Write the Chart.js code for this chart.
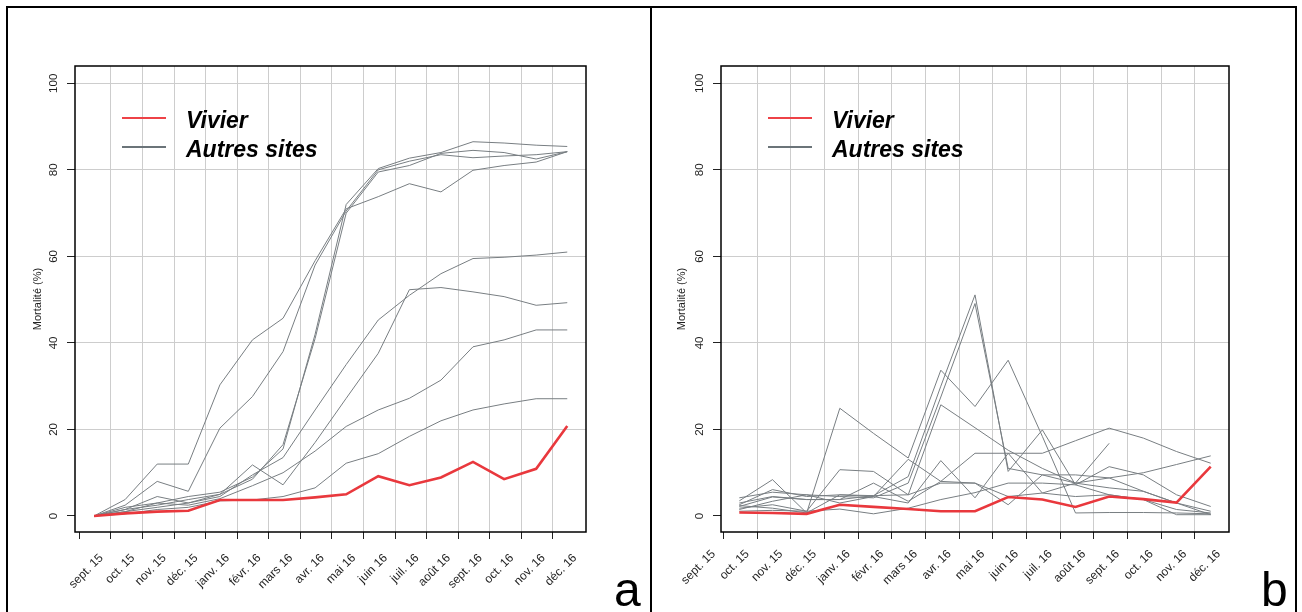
<!DOCTYPE html>
<html lang="fr">
<head>
    <meta charset="UTF-8">
    <title>Mortalité : Vivier et autres sites</title>
    <style>
        html, body {
            margin: 0;
            padding: 0;
            background: #fff;
        }

        body {
            width: 1302px;
            height: 612px;
            overflow: hidden;
            position: relative;
            font-family: "Liberation Sans", Arial, sans-serif;
        }

        .cadre {
            position: absolute;
            left: 6px;
            top: 6px;
            width: 1287px;
            height: 640px;
            border: 2px solid #000;
        }

        .separation {
            position: absolute;
            left: 650px;
            top: 6px;
            width: 2px;
            height: 640px;
            background: #000;
        }

        canvas {
            position: absolute;
            top: 8px;
        }

        .lettre {
            position: absolute;
            font-size: 48px;
            line-height: 48px;
            color: #000;
        }
    </style>
</head>
<body>

    <div class="cadre"></div>
    <div class="separation"></div>

    <canvas id="grapheA" width="642" height="604" style="left: 8px;"></canvas>
    <canvas id="grapheB" width="643" height="604" style="left: 652px;"></canvas>

    <div class="lettre" style="left: 614px; top: 566px;">a</div>
    <div class="lettre" style="left: 1261px; top: 566px;">b</div>

    <script src="https://cdn.jsdelivr.net/npm/chart.js"></script>

    <script>
        // libellés de l'axe des x (un par mois) et graduations
        const moisLabels = ['sept. 15', 'oct. 15', 'nov. 15', 'déc. 15', 'janv. 16', 'févr. 16', 'mars 16', 'avr. 16',
                            'mai 16', 'juin 16', 'juil. 16', 'août 16', 'sept. 16', 'oct. 16', 'nov. 16', 'déc. 16'];
        const moisTicks = [0, 1, 2, 3, 4, 5, 6, 7, 8, 9, 10, 11, 12, 13, 14, 15];
        const yTicks = [0, 20, 40, 60, 80, 100];

        // a : mortalité cumulée (%)
        const datesA = ['2015-09-15', '2015-10-15', '2015-11-15', '2015-12-15', '2016-01-15', '2016-02-15', '2016-03-15', '2016-04-15',
                        '2016-05-15', '2016-06-15', '2016-07-15', '2016-08-15', '2016-09-15', '2016-10-15', '2016-11-15', '2016-12-15'];
        const vivierA = [0, 0.6, 1.0, 1.2, 3.7, 3.7, 3.7, 4.3, 5.0, 9.2, 7.1, 8.9, 12.5, 8.5, 10.9, 20.8];
        const siteA1 = [0, 3.8, 12.0, 12.0, 30.3, 40.7, 45.7, 59.0, 71.0, 73.8, 76.8, 74.9, 79.9, 81.0, 81.8, 84.2];
        const siteA2 = [0, 2.5, 8.0, 5.7, 20.3, 27.6, 38.0, 58.0, 70.5, 80.0, 82.0, 83.5, 82.8, 83.2, 83.5, 84.2];
        const siteA3 = [0, 2.0, 3.0, 4.5, 5.5, 9.0, 15.5, 42.0, 72.0, 80.3, 82.7, 84.0, 86.5, 86.2, 85.7, 85.4];
        const siteA4 = [0, 1.5, 2.5, 3.8, 5.0, 8.5, 16.5, 41.0, 70.0, 79.5, 81.0, 83.8, 84.5, 84.0, 82.5, 84.2];
        const siteA5 = [0, 1.0, 2.0, 3.0, 4.5, 9.5, 13.5, 24.5, 35.0, 45.3, 51.0, 56.0, 59.5, 59.8, 60.3, 61.0];
        const siteA6 = [0, 1.5, 4.5, 3.0, 5.0, 11.8, 7.2, 17.0, 27.2, 37.6, 52.3, 52.8, 51.8, 50.7, 48.7, 49.3];
        const siteA7 = [0, 1.0, 3.0, 2.5, 4.0, 7.0, 10.0, 15.0, 20.7, 24.5, 27.2, 31.4, 39.1, 40.7, 43.0, 43.0];
        const siteA8 = [0, 0.5, 1.5, 2.0, 3.5, 3.7, 4.5, 6.5, 12.2, 14.4, 18.4, 22.0, 24.5, 25.9, 27.1, 27.1];

        // b : mortalité mensuelle (%)
        const datesB = ['2015-09-15', '2015-10-15', '2015-11-15', '2015-12-15', '2016-01-15', '2016-02-15', '2016-03-15', '2016-04-15',
                        '2016-05-15', '2016-06-15', '2016-07-15', '2016-08-15', '2016-09-15', '2016-10-15', '2016-11-15'];
        const vivierB = [0.8, 0.7, 0.5, 2.6, 2.1, 1.6, 1.1, 1.1, 4.4, 3.8, 2.1, 4.5, 3.9, 3.1, 11.4];
        const siteB1 = [2.2, 4.4, 3.8, 3.8, 4.7, 9.1, 30.0, 51.1, 10.3, 19.9, 7.2, 4.9, 3.8, 1.5, 0.7];
        const siteB2 = [1.5, 3.4, 4.9, 4.5, 4.2, 7.6, 27.5, 49.1, 11.0, 9.5, 9.5, 8.8, 5.7, 3.0, 0.3];
        const siteB3 = [3.5, 8.4, 0.7, 24.9, 19.1, 13.4, 33.7, 25.3, 36.0, 18.4, 0.7, 0.8, 0.8, 0.7, 0.5];
        const siteB4 = [1.8, 2.6, 1.1, 10.7, 10.3, 4.9, 25.7, 20.4, 15.2, 11.0, 7.6, 6.5, 5.7, 3.0, 1.1];
        const siteB5 = [2.6, 6.1, 4.5, 4.9, 4.5, 3.0, 12.8, 4.2, 14.5, 14.5, 17.4, 20.3, 18.0, 14.9, 12.2];
        const siteB6 = [3.0, 4.5, 3.8, 3.8, 7.6, 3.4, 8.0, 14.5, 14.5, 5.3, 7.6, 8.8, 10.0, 11.9, 13.9];
        const siteB7 = [4.2, 5.5, 4.9, 3.0, 4.5, 13.1, 8.0, 7.6, 2.6, 9.5, 7.6, 16.8];
        const siteB8 = [1.1, 1.3, 1.1, 1.6, 0.5, 1.8, 3.8, 5.4, 7.6, 7.6, 7.2, 11.4, 9.5, 4.9, 2.2];
        const siteB9 = [2.4, 1.8, 0.7, 4.9, 4.7, 4.9, 7.6, 7.6, 4.5, 5.3, 4.5, 4.9, 3.8, 0.3, 0.3];

        const rouge = '#e9383d';
        const gris = '#787e82';
        const police = '"Liberation Sans", Arial, sans-serif';

        Chart.defaults.font.family = police;

        // date -> nombre de mois depuis le 1er septembre 2015
        function moisIndex(d) {
            const [annee, mois, jour] = d.split('-').map(Number);
            const nbJours = new Date(annee, mois, 0).getDate();
            return (annee - 2015) * 12 + (mois - 9) + (jour - 1) / nbJours;
        }

        // cadre du graphe + légende en haut à gauche
        const cadreLegende = {
            id: 'cadreLegende',
            afterDraw(chart) {
                const ctx = chart.ctx;
                const a = chart.chartArea;
                ctx.save();
                ctx.strokeStyle = '#000';
                ctx.lineWidth = 1.5;
                ctx.strokeRect(a.left, a.top, a.right - a.left, a.bottom - a.top);

                ctx.lineWidth = 2.2;
                ctx.strokeStyle = '#ee4247';
                ctx.beginPath();
                ctx.moveTo(a.left + 47, a.top + 52);
                ctx.lineTo(a.left + 91, a.top + 52);
                ctx.stroke();
                ctx.strokeStyle = '#6b7479';
                ctx.beginPath();
                ctx.moveTo(a.left + 47, a.top + 81);
                ctx.lineTo(a.left + 91, a.top + 81);
                ctx.stroke();

                ctx.fillStyle = '#000';
                ctx.font = 'italic bold 23px ' + police;
                ctx.textAlign = 'left';
                ctx.textBaseline = 'alphabetic';
                ctx.fillText('Vivier', a.left + 111, a.top + 62);
                ctx.fillText('Autres sites', a.left + 111, a.top + 91);
                ctx.restore();
            }
        };

        function dessiner(id, cfg) {
            const xs = cfg.dates.map(moisIndex);
            const datasets = [{
                label: 'Vivier',
                data: cfg.vivier.map((v, i) => ({ x: xs[i], y: v })),
                borderColor: rouge,
                borderWidth: 2.6
            }];
            cfg.autres.forEach((serie, k) => {
                datasets.push({
                    label: 'Autres sites ' + (k + 1),
                    data: serie.map((v, i) => ({ x: xs[i], y: v })),
                    borderColor: gris,
                    borderWidth: 1
                });
            });

            return new Chart(document.getElementById(id), {
                type: 'line',
                data: { datasets: datasets },
                options: {
                    responsive: false,
                    animation: false,
                    layout: { padding: { top: 58, right: cfg.padDroite, left: 0, bottom: 0 } },
                    elements: { point: { radius: 0 }, line: { tension: 0, fill: false } },
                    plugins: { legend: { display: false }, tooltip: { enabled: false } },
                    scales: {
                        x: {
                            type: 'linear',
                            min: cfg.xMin,
                            max: cfg.xMax,
                            afterBuildTicks: s => { s.ticks = moisTicks.map(v => ({ value: v })); },
                            afterFit: s => { s.height = 80; },
                            border: { display: false },
                            grid: {
                                color: c => (c.tick && c.tick.value > 0 && c.tick.value <= cfg.derniereGrille) ? '#cdcdcd' : 'rgba(0,0,0,0)',
                                tickColor: c => (c.tick && c.tick.value <= cfg.derniereGrille) ? '#222' : 'rgba(0,0,0,0)',
                                tickLength: 7
                            },
                            ticks: {
                                autoSkip: false,
                                minRotation: 45,
                                maxRotation: 45,
                                labelOffset: cfg.decalage,
                                padding: cfg.marge,
                                color: '#1e1e1e',
                                font: { size: 12 },
                                callback: v => moisLabels[v]
                            }
                        },
                        y: {
                            min: -3.7,
                            max: 104,
                            afterBuildTicks: s => { s.ticks = yTicks.map(v => ({ value: v })); },
                            afterFit: s => { s.width = cfg.largeurY; },
                            border: { display: false },
                            grid: {
                                color: c => (c.tick && c.tick.value === 0) ? 'rgba(0,0,0,0)' : '#cdcdcd',
                                tickColor: '#222',
                                tickLength: 8
                            },
                            ticks: {
                                minRotation: 90,
                                maxRotation: 90,
                                crossAlign: 'center',
                                padding: 4,
                                color: '#1e1e1e',
                                font: { size: 11.5 }
                            },
                            title: {
                                display: true,
                                text: 'Mortalité (%)',
                                color: '#1e1e1e',
                                font: { size: 11 },
                                padding: { top: 23, bottom: 0 }
                            }
                        }
                    }
                },
                plugins: [cadreLegende]
            });
        }

        dessiner('grapheA', {
            dates: datesA,
            vivier: vivierA,
            autres: [siteA1, siteA2, siteA3, siteA4, siteA5, siteA6, siteA7, siteA8],
            xMin: -0.136,
            xMax: 16.045,
            derniereGrille: 15,
            decalage: 22,
            marge: 12,
            largeurY: 67,
            padDroite: 64
        });

        dessiner('grapheB', {
            dates: datesB,
            vivier: vivierB,
            autres: [siteB1, siteB2, siteB3, siteB4, siteB5, siteB6, siteB7, siteB8, siteB9],
            xMin: -0.077,
            xMax: 15.01,
            derniereGrille: 14,
            decalage: -10,
            marge: 8,
            largeurY: 69,
            padDroite: 66
        });
    </script>
</body>
</html>
